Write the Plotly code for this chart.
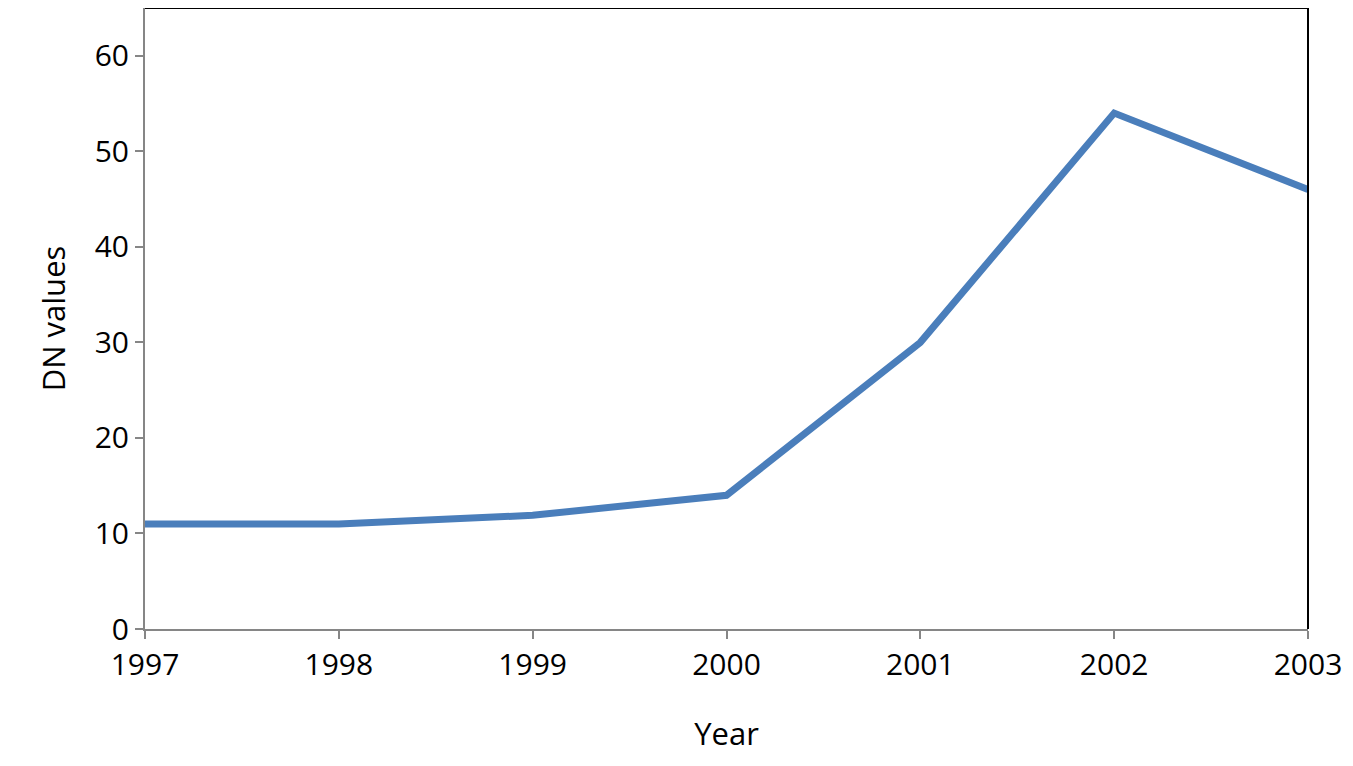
import plotly.graph_objects as go

years = [1997, 1998, 1999, 2000, 2001, 2002, 2003]
dn_values = [11, 11, 11.9, 14, 30, 54, 46]

fig = go.Figure()
fig.add_trace(go.Scatter(
    x=years, y=dn_values, mode="lines",
    line=dict(color="#4a7ebb", width=7),
    showlegend=False, cliponaxis=True,
))

fig.update_layout(
    width=1353, height=766,
    paper_bgcolor="white", plot_bgcolor="white",
    margin=dict(l=137, r=53, t=0, b=145),
    font=dict(family="Open Sans", color="black", size=30),
)
fig.update_xaxes(
    range=[1997, 2003], tickvals=years, ticktext=[str(y) for y in years],
    showgrid=False, zeroline=False,
    showline=True, linecolor="#868686", linewidth=2, mirror=False,
    ticks="outside", ticklen=8, tickcolor="#868686", tickwidth=2,
    title=dict(text="Year", font=dict(size=31), standoff=40),
)
fig.update_yaxes(
    range=[0, 65], tickvals=[0, 10, 20, 30, 40, 50, 60],
    showgrid=False, zeroline=False,
    showline=True, linecolor="#868686", linewidth=2,
    ticks="outside", ticklen=8, tickcolor="#868686", tickwidth=2,
    title=dict(text="DN values", font=dict(size=31), standoff=20),
)
# frame on top and right
fig.add_shape(type="line", xref="paper", yref="paper", x0=0, x1=1, y0=1, y1=1,
              line=dict(color="black", width=2))
fig.add_shape(type="line", xref="paper", yref="paper", x0=1, x1=1, y0=0, y1=1,
              line=dict(color="black", width=2))

fig.write_html("out.html")
